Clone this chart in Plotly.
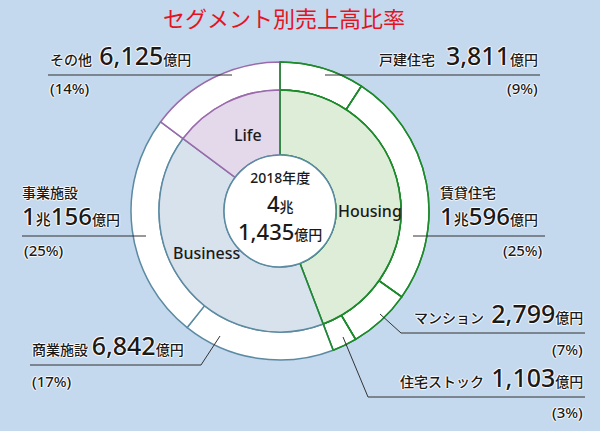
import plotly.graph_objects as go

W, H = 600, 431

# ---- data ----
segments = ["戸建住宅", "賃貸住宅", "マンション", "住宅ストック", "商業施設", "事業施設", "その他"]
seg_values = [3811, 10596, 2799, 1103, 6842, 10156, 6125]
seg_amount_text = ["3,811", "1兆596", "2,799", "1,103", "6,842", "1兆156", "6,125"]
seg_pct = [9, 25, 7, 3, 17, 25, 14]
seg_group = ["Housing", "Housing", "Housing", "Housing", "Business", "Business", "Life"]
groups = ["Housing", "Business", "Life"]
group_values = [sum(v for v, g in zip(seg_values, seg_group) if g == gr) for gr in groups]
center_year = "2018年度"
center_total = ("4", "1,435")

# ---- styles ----
fill = {"Housing": "#deedd7", "Business": "#d8e2ec", "Life": "#e4d9ea"}
edge = {"Housing": "#1d8a2c", "Business": "#5b8aa2", "Life": "#9a6aab"}
BG = "#c4d8ee"
TXT = "#1a1a1a"
FONT = "Noto Sans, Noto Sans CJK JP"
HALO = "1px 0 1px #fff, -1px 0 1px #fff, 0 1px 1px #fff, 0 -1px 1px #fff"
CLEAR = "rgba(0,0,0,0)"

cx, cy = 280, 211
R_out, R_mid, R_in = 149, 121, 56


def dom(r):
    return dict(x=[(cx - r) / W, (cx + r) / W], y=[(H - cy - r) / H, (H - cy + r) / H])


def px(x):
    return x / W


def py(y):
    return 1 - y / H


def ring(values, labels, gl, r_o, r_i, colors, overlay=False):
    if overlay:
        line = dict(color=[edge["Housing"] if g == "Housing" else CLEAR for g in gl],
                    width=[1.5 if g == "Housing" else 0 for g in gl])
        colors = [CLEAR] * len(values)
    else:
        line = dict(color=[edge[g] for g in gl], width=1.5)
    return go.Pie(values=values, labels=labels, sort=False, direction="clockwise", rotation=0,
                  hole=r_i / r_o, domain=dom(r_o), textinfo="none",
                  hoverinfo="skip" if overlay else "label+value",
                  marker=dict(colors=colors, line=line), showlegend=False)


fig = go.Figure()
fig.add_trace(ring(seg_values, segments, seg_group, R_out, R_mid, ["#ffffff"] * len(segments)))
fig.add_trace(ring(seg_values, segments, seg_group, R_out, R_mid, None, overlay=True))
fig.add_trace(ring(group_values, groups, groups, R_mid, R_in, [fill[g] for g in groups]))
fig.add_trace(ring(group_values, groups, groups, R_mid, R_in, None, overlay=True))
fig.add_trace(go.Pie(
    values=[1], labels=["total"], domain=dom(R_in), textinfo="none", hoverinfo="skip",
    marker=dict(colors=["#ffffff"], line=dict(color="#5b8aa2", width=1.5)),
    showlegend=False,
))

ann = []


def add(text, x, y, size=14, xa="center", ya="middle", color=TXT, align=None, halo=True):
    a = dict(text=text, x=px(x), y=py(y), xref="paper", yref="paper",
             xanchor=xa, yanchor=ya, showarrow=False,
             font=dict(size=size, color=color, family=FONT, shadow=HALO if halo else "none"))
    if align:
        a["align"] = align
    ann.append(a)


def sp(s, size, w=500):
    return "<span style='font-size:%dpx;font-weight:%d'>%s</span>" % (size, w, s)


def big(s, size=25):
    parts = s.split("兆")
    if len(parts) == 2:
        return sp(parts[0], size) + sp("兆", 15) + sp(parts[1], size)
    return sp(s, size)


unit = sp("億円", 14)

# title
add("セグメント別売上高比率", 284, 18, size=22, color="#e3141d", halo=False)

# center (one multi-line text)
add(sp(center_year, 14) + "<br>" + sp(center_total[0], 22) + sp("兆", 14) + "<br>"
    + sp(center_total[1], 22) + unit, cx, 207, size=22, halo=False)

# inner labels
add(sp("Life", 16), 248, 135, size=16, halo=False)
add(sp("Housing", 16), 370, 211, size=16, halo=False)
add(sp("Business", 16), 207, 253, size=16, halo=False)

shapes = []


def line(x0, y0, x1, y1):
    shapes.append(dict(type="line", xref="paper", yref="paper", x0=px(x0), y0=py(y0),
                       x1=px(x1), y1=py(y1), line=dict(color="#333333", width=1)))


def pct(i):
    return sp("(" + str(seg_pct[i]) + "%)", 15)


def name(s):
    return sp(s, 14)


i = segments.index
# その他
k = i("その他")
add(name(segments[k]) + "  " + big(seg_amount_text[k]) + unit, 48, 74, size=14, xa="left", ya="bottom")
line(48, 75, 232, 75)
add(pct(k), 48, 88, size=15, xa="left")
# 戸建住宅
k = i("戸建住宅")
add(name(segments[k]) + "   " + big(seg_amount_text[k]) + unit, 540, 74, size=14, xa="right", ya="bottom")
line(325, 75, 540, 75)
add(pct(k), 540, 88, size=15, xa="right")
# 賃貸住宅
k = i("賃貸住宅")
add(name(segments[k]) + "<br>" + big(seg_amount_text[k], 24) + unit, 438, 207, size=21, xa="left", align="left")
line(413, 236, 545, 236)
add(pct(k), 545, 250, size=15, xa="right")
# 事業施設
k = i("事業施設")
add(name(segments[k]) + "<br>" + big(seg_amount_text[k], 24) + unit, 20, 207, size=21, xa="left", align="left")
line(22, 236, 146, 236)
add(pct(k), 22, 250, size=15, xa="left")
# 商業施設
k = i("商業施設")
add(name(segments[k]) + " " + big(seg_amount_text[k]) + unit, 30, 364, size=14, xa="left", ya="bottom")
line(30, 365, 201, 365)
line(201, 365, 220, 336)
add(pct(k), 30, 381, size=15, xa="left")
# マンション
k = i("マンション")
add(name(segments[k]) + "  " + big(seg_amount_text[k]) + unit, 585, 332, size=14, xa="right", ya="bottom")
line(401, 333, 585, 333)
line(380, 314, 401, 333)
add(pct(k), 585, 349, size=15, xa="right")
# 住宅ストック
k = i("住宅ストック")
add(name(segments[k]) + "  " + big(seg_amount_text[k]) + unit, 585, 396, size=14, xa="right", ya="bottom")
line(368, 397, 585, 397)
line(343, 337, 368, 397)
add(pct(k), 585, 412, size=15, xa="right")

fig.update_layout(
    width=W, height=H, margin=dict(l=0, r=0, t=0, b=0),
    paper_bgcolor=BG, plot_bgcolor=BG,
    annotations=ann, shapes=shapes,
    font=dict(family=FONT, color=TXT),
)
fig.write_html("out.html", config={"displayModeBar": False},
               post_script="document.body.style.margin='0';document.body.style.background='%s';" % BG)
